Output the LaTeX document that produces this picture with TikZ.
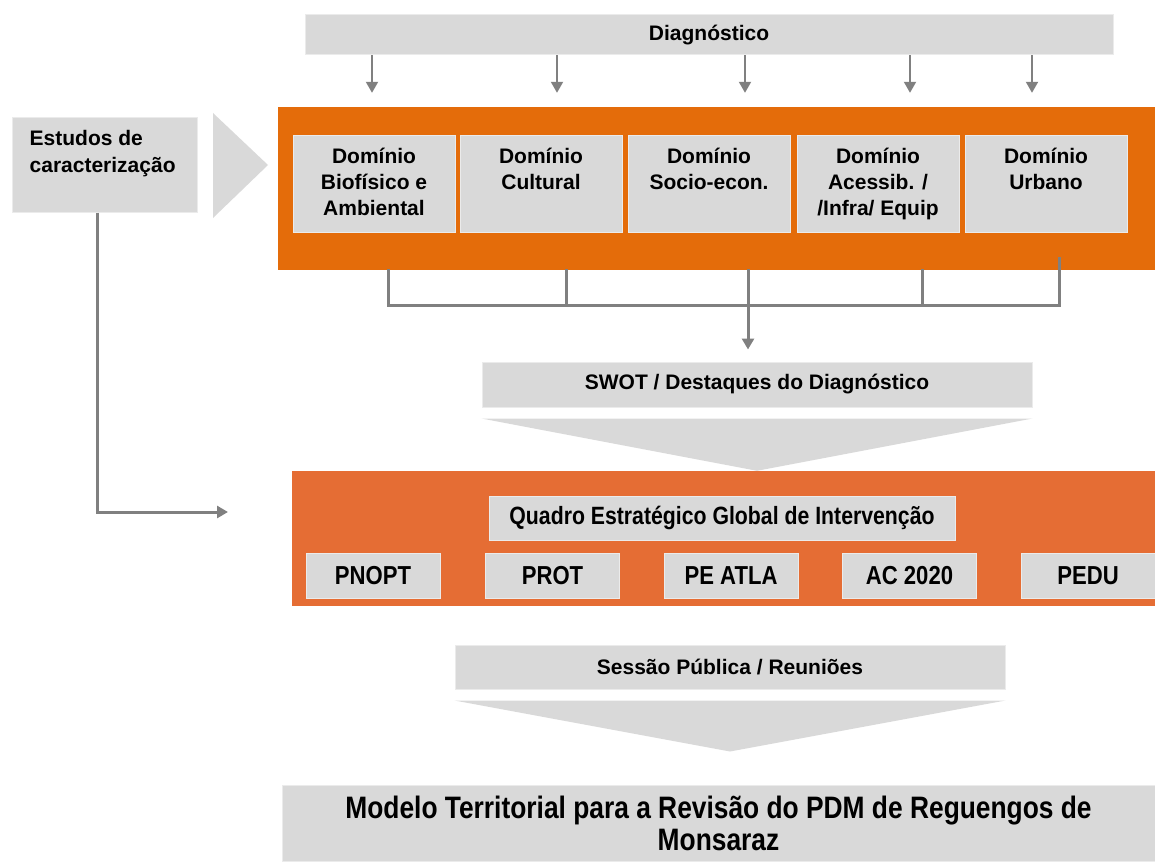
\documentclass[tikz,border=0pt]{standalone}
\usepackage{fontspec}
\setmainfont{Liberation Sans}
\newfontfamily\narrowfont{Liberation Sans}[FakeStretch=0.85]
\usetikzlibrary{arrows.meta}

\begin{document}
\begin{tikzpicture}[x=1pt,y=-1pt,>={Triangle[width=12pt,length=11pt]}]

% colors
\colorlet{cBar}{black!15}
\definecolor{cOrangeA}{RGB}{228,108,10}
\definecolor{cOrangeB}{RGB}{229,109,52}
\colorlet{cLine}{black!50}

% styles
\tikzset{
  bar/.style={fill=cBar,draw=black!8,line width=1pt,inner sep=0pt,
    font=\fontsize{21}{26}\selectfont\bfseries},
  domtext/.style={inner sep=0pt,align=center,anchor=north,
    font=\fontsize{21}{26}\selectfont\bfseries},
  smallbox/.style={bar,minimum width=134,minimum height=45,
    font=\narrowfont\fontsize{26}{30}\selectfont\bfseries},
  block/.style={inner sep=0pt,draw=none},
  link/.style={draw=cLine,line width=3pt,line cap=rect},
  garrow/.style={draw=cLine,line width=2pt,->},
}

\useasboundingbox (0,0) rectangle (1155,861);

% top bar
\node[bar,minimum width=808,minimum height=40] (diag) at (709,35) {Diagnóstico};

% left study box and chevron
\node[bar,minimum width=185,minimum height=94] (est) at (104.5,165) {};
\node[inner sep=0pt,align=left,anchor=north west,font=\fontsize{21}{27}\selectfont\bfseries]
  (estt) at ([xshift=18pt,yshift=-13pt]est.north west) {Estudos de\\caracterização};
\fill[cBar] (213,113) -- (268,165) -- (213,218) -- cycle;

% first orange block
\node[block,fill=cOrangeA,minimum width=877,minimum height=163] (domA) at (716.5,188.5) {};

% domain boxes
\foreach \nm/\xc in {dA/374,dB/541,dC/709,dD/878,dE/1046}{
  \node[bar,minimum width=162,minimum height=96] (\nm) at (\xc,184) {};
}
\node[domtext] (dAt) at ([yshift=-12pt]dA.north) {Domínio\\Biofísico e\\Ambiental};
\node[domtext] (dBt) at ([yshift=-12pt]dB.north) {Domínio\\Cultural};
\node[domtext] (dCt) at ([yshift=-12pt]dC.north) {Domínio\\Socio-econ.};
\node[domtext] (dDt) at ([yshift=-12pt]dD.north) {Domínio\\Acessib. /\\/Infra/ Equip};
\node[domtext] (dEt) at ([yshift=-12pt]dE.north) {Domínio\\Urbano};

% arrows from the top bar
\foreach \xc in {372,557,745,910,1032}{
  \draw[garrow,shorten >=14pt] (diag.south -| \xc,0) -- (domA.north -| \xc,0);
}

% collector under the domains
\coordinate (hub) at (748,305);
\foreach \xc in {388,566,748,922}{
  \draw[link] (domA.south -| \xc,0) -- (hub -| \xc,0);
}
\coordinate (tapE) at (1059,258);
\draw[link] (tapE) -- (hub -| tapE);
\draw[link] (hub -| 388,0) -- (hub -| tapE);

% SWOT
\node[bar,minimum width=550,minimum height=45] (swot) at (757,384.5)
  {SWOT / Destaques do Diagnóstico};
\draw[garrow,line width=3pt,shorten >=12pt] (hub) -- (swot.north -| hub);

% second orange block
\node[block,fill=cOrangeB,minimum width=863,minimum height=135] (domB) at (723.5,538.5) {};
\fill[cBar] ([yshift=-11pt]swot.south west) -- ([yshift=-11pt]swot.south east)
  -- (swot.south |- domB.north) -- cycle;

\node[bar,minimum width=466,minimum height=44,
  font=\narrowfont\fontsize{25}{28}\selectfont\bfseries] (qegi) at (722,518)
  {Quadro Estratégico Global de Intervenção};

\node[smallbox] (pnopt) at (373,575.5) {PNOPT};
\node[smallbox] (prot) at (552.5,575.5) {PROT};
\node[smallbox] (peatla) at (731,575.5) {PE ATLA};
\node[smallbox] (ac) at (909.5,575.5) {AC 2020};
\node[smallbox] (pedu) at (1088,575.5) {PEDU};

% link from the studies
\coordinate (qin) at (228,512);
\draw[garrow,line width=3pt] (est.south -| 97,0) |- (qin);

% public session
\node[bar,minimum width=550,minimum height=44] (sess) at (730,667)
  {Sessão Pública / Reuniões};
\node[bar,minimum width=873,minimum height=76,align=center,
  font=\narrowfont\fontsize{31}{32}\selectfont\bfseries] (model) at (718.5,823)
  {Modelo Territorial para a Revisão do PDM de Reguengos de\\Monsaraz};
\fill[cBar] ([yshift=-11pt]sess.south west) -- ([yshift=-11pt]sess.south east)
  -- ([yshift=33pt]sess.south |- model.north) -- cycle;

\end{tikzpicture}
\end{document}
